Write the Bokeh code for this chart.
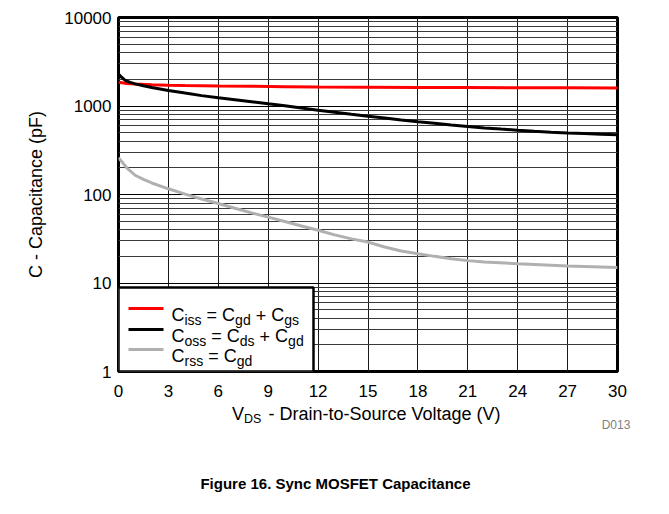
import numpy as np
from bokeh.plotting import figure
from bokeh.models import (Range1d, FixedTicker, BasicTickFormatter, Label,
                          LinearAxis)
from bokeh.embed import file_html
from bokeh.resources import INLINE

# ---------------- data ----------------
vds_iss = [0, 0.5, 1, 2, 3, 4, 6, 8, 10, 12, 15, 18, 21, 24, 27, 30]
ciss = [1850, 1800, 1770, 1740, 1720, 1705, 1685, 1670, 1655, 1640, 1630,
        1620, 1615, 1610, 1605, 1600]

vds_oss = [0, 0.2, 0.4, 0.7, 1, 1.5, 2, 3, 4, 5, 6, 7, 8, 9, 10, 11, 12, 13,
           14, 15, 16, 17, 18, 19, 20, 21, 22, 23, 24, 25, 26, 27, 28, 29, 30]
coss = [2300, 2100, 1950, 1850, 1780, 1690, 1620, 1500, 1400, 1310, 1240,
        1180, 1120, 1060, 1005, 950, 895, 850, 805, 765, 730, 695, 665, 640,
        610, 585, 565, 548, 532, 518, 506, 496, 488, 480, 473]

vds_rss = [0, 0.2, 0.5, 1, 1.5, 2, 3, 4, 5, 6, 7, 8, 9, 10, 11, 12, 13, 14,
           15, 16, 17, 18, 19, 20, 21, 22, 24, 27, 30]
crss = [260, 235, 200, 165, 148, 135, 116, 101, 89, 79, 70, 62, 55.5, 49.5,
        44, 39.5, 35, 31.5, 29, 25.5, 23, 21.4, 20, 18.8, 17.9, 17.3, 16.5,
        15.6, 15.0]

x_ticks = [0, 3, 6, 9, 12, 15, 18, 21, 24, 27, 30]
y_ticks = [1, 10, 100, 1000, 10000]
y_minor = [m * 10 ** k for k in range(4) for m in range(2, 10)]

# legend entries: list of (text, is_subscript)
legend_entries = [
    [("C", 0), ("iss", 1), ("=", 0), ("C", 0), ("gd", 1), ("+", 0), ("C", 0), ("gs", 1)],
    [("C", 0), ("oss", 1), ("=", 0), ("C", 0), ("ds", 1), ("+", 0), ("C", 0), ("gd", 1)],
    [("C", 0), ("rss", 1), ("=", 0), ("C", 0), ("gd", 1)],
]
legend_colors = ["#ff0000", "black", "#b0b0b0"]

x_title_main = "V"
x_title_sub = "DS"
x_title_rest = "- Drain-to-Source Voltage (V)"
y_title = "C - Capacitance (pF)"
caption = "Figure 16. Sync MOSFET Capacitance"
fig_code = "D013"

FONT = "Liberation Sans"
W, H = 653, 498

# ---------------- geometry (page pixels) ----------------
FR_L, FR_R, FR_T, FR_B = 118, 617, 17, 371
PX_V = (FR_R - FR_L) / 30.0
PX_DEC = (FR_B - FR_T) / 4.0


def xd(px):
    return (px - FR_L) / PX_V


def yd(py):
    return 10 ** ((FR_B - py) / PX_DEC)


# Arial / Liberation Sans advance widths (em)
ADV = {"C": .722, "i": .222, "s": .5, "o": .556, "r": .333, "g": .556,
       "d": .556, "=": .584, "+": .584, " ": .278}


def text_w(t, size):
    return sum(ADV.get(ch, .556) for ch in t) * size


# ---------------- main figure ----------------
p = figure(width=W, height=H, x_range=Range1d(0, 30), y_range=Range1d(1, 10000),
           y_axis_type="log", output_backend="svg", toolbar_location=None,
           min_border_left=FR_L, min_border_right=W - FR_R,
           min_border_top=FR_T, min_border_bottom=H - FR_B,
           background_fill_color="white", border_fill_color="white")
p.outline_line_color = "black"
p.outline_line_width = 3


def plain(ax, size, standoff, color="black", bold=False, font=FONT):
    ax.axis_line_color = None
    ax.major_tick_line_color = None
    ax.minor_tick_line_color = None
    ax.major_tick_in = 0
    ax.major_tick_out = 0
    ax.minor_tick_in = 0
    ax.minor_tick_out = 0
    ax.major_label_text_font = font
    ax.major_label_text_font_size = f"{size}px"
    ax.major_label_text_color = color
    ax.major_label_text_font_style = "bold" if bold else "normal"
    ax.major_label_standoff = standoff


plain(p.xaxis[0], 17, 13)
plain(p.yaxis[0], 17, 7)
p.xaxis.ticker = FixedTicker(ticks=x_ticks)
p.yaxis.ticker = FixedTicker(ticks=y_ticks, minor_ticks=y_minor)
p.yaxis.formatter = BasicTickFormatter(use_scientific=False)
p.yaxis.axis_label = y_title
p.yaxis.axis_label_text_font = FONT
p.yaxis.axis_label_text_font_size = "18px"
p.yaxis.axis_label_text_font_style = "normal"
p.yaxis.axis_label_text_color = "black"
p.yaxis.axis_label_standoff = 15

p.xgrid.ticker = FixedTicker(ticks=x_ticks)
p.ygrid.ticker = FixedTicker(ticks=y_ticks, minor_ticks=y_minor)
p.xgrid.grid_line_color = "#1a1a1a"
p.xgrid.grid_line_width = 1
p.ygrid.grid_line_color = "black"
p.ygrid.grid_line_width = 1
p.ygrid.minor_grid_line_color = "#3a3a3a"
p.ygrid.minor_grid_line_width = 1

p.line(vds_iss, ciss, line_color=legend_colors[0], line_width=3)
p.line(vds_oss, coss, line_color=legend_colors[1], line_width=3)
p.line(vds_rss, crss, line_color=legend_colors[2], line_width=3)

# ---------------- legend (drawn by hand because of the subscripts) -------
p.quad(left=[0], right=[xd(313)], bottom=[1], top=[yd(287)],
       fill_color="white", line_color="black", line_width=2.5)
leg_rows = [308, 329, 349]
p.segment(x0=[xd(128)] * 3, x1=[xd(163)] * 3, y0=[yd(r) for r in leg_rows],
          y1=[yd(r) for r in leg_rows], line_color=legend_colors, line_width=3)


def lab(text, px, py, size):
    p.add_layout(Label(x=xd(px), y=yd(py), text=text, text_font=FONT,
                       text_font_size=f"{size}px", text_align="left",
                       text_baseline="alphabetic", text_color="black"))


MAIN, SUB = 18, 14
for entry, row in zip(legend_entries, leg_rows):
    base = row + 6.8
    cx = 171.0
    for text, is_sub in entry:
        if text in ("=", "+"):
            cx += text_w(" ", MAIN)
        if is_sub:
            lab(text, cx, base + 4.5, SUB)
            cx += text_w(text, SUB)
        else:
            lab(text, cx, base, MAIN)
            cx += text_w(text, MAIN)
        if text in ("=", "+"):
            cx += text_w(" ", MAIN)


# ---------------- texts below the plot: extra label rows ----------------
def text_row(items, size, standoff, color="black", bold=False, font=FONT):
    ticks = [xd(px) for _, px in items]
    ax = LinearAxis(ticker=FixedTicker(ticks=ticks),
                    major_label_overrides={t: s for t, (s, _) in zip(ticks, items)})
    plain(ax, size, standoff, color=color, bold=bold, font=font)
    p.add_layout(ax, "below")


# x-axis title: V, subscript DS, rest
text_row([(x_title_main, 237.5), (x_title_rest, 384)], 18, 4)
text_row([(x_title_sub, 252.2)], 12.5, -15)
text_row([(fig_code, 615.5)], 12, -11, color="#808080")
text_row([(caption, 335)], 15, 40, bold=True)

open("out.html", "w").write(file_html(p, INLINE))
